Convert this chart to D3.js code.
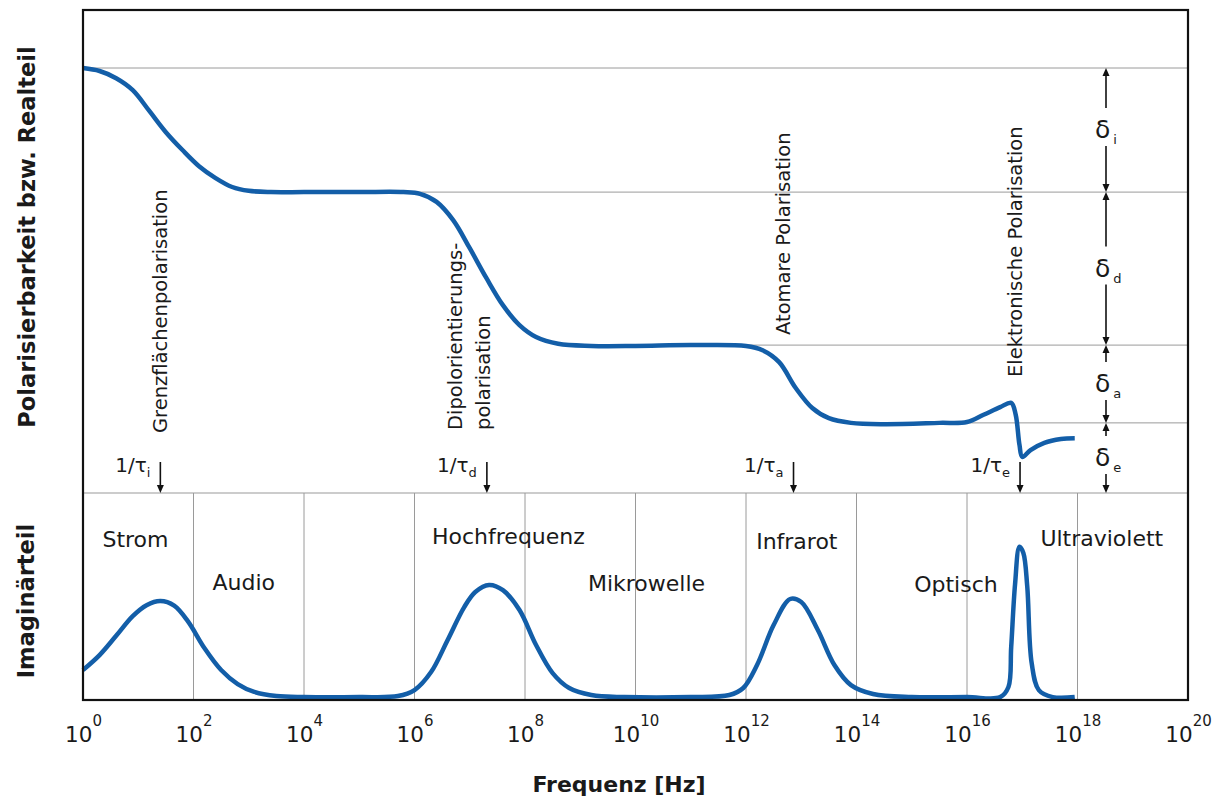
<!DOCTYPE html>
<html><head><meta charset="utf-8">
<script src="https://cdn.jsdelivr.net/npm/d3@7"></script>
<style>
html,body{margin:0;padding:0;background:#fff;}
svg{display:block;}
text{font-family:"DejaVu Sans",sans-serif;fill:#1a1a1a;}
</style></head>
<body>
<svg id="chart" width="1228" height="800"></svg>
<script>
// ---------- DATA ----------
// frequency exponents (log10 f / Hz) and real-part level (relative units)
const realExp   = [0,0.3,0.6,0.9,1.2,1.5,1.8,2.1,2.4,2.7,3.0,3.4,4.0,5.0,5.8,6.1,6.4,6.7,7.0,7.3,7.6,7.9,8.2,8.6,9.2,10,11,12.0,12.3,12.6,12.9,13.2,13.5,13.9,14.5,15.5,16.0,16.3,16.6,16.8,16.88,16.95,17.0,17.15,17.4,17.7,17.95];
const realLevel = [100,99.3,97.6,94.8,89.9,84.9,80.7,76.9,74.1,72.0,71.1,70.8,70.8,70.8,70.8,70.4,68.5,64.2,57.6,50.6,44.2,39.5,36.7,35.1,34.6,34.6,34.8,34.6,33.6,30.8,24.7,20.0,17.6,16.5,16.2,16.5,16.7,18.4,20.2,21.2,18.5,11.3,8.5,10.1,11.8,12.7,12.9];
// imaginary part
const imagExp   = [0,0.3,0.6,0.9,1.15,1.4,1.65,1.9,2.2,2.5,2.8,3.1,3.5,4.0,5.0,5.7,6.0,6.3,6.6,6.9,7.1,7.35,7.6,7.9,8.2,8.5,8.8,9.2,9.8,11.0,11.7,11.95,12.2,12.5,12.8,13.0,13.3,13.6,13.9,14.3,15.0,16.0,16.6,16.75,16.8,16.87,16.95,17.02,17.09,17.17,17.3,17.55,17.95];
const imagLevel = [14.5,21.7,31.0,40.5,45.8,47.8,45.6,38.0,25.0,14.5,7.7,3.9,1.9,1.4,1.4,1.9,4.8,13.5,29.0,44.9,52.2,55.6,53.1,43.5,26.6,13.0,5.8,2.4,1.4,1.4,2.4,5.8,16.9,36.2,48.8,47.3,33.8,16.9,7.2,2.9,1.4,1.4,1.4,6.3,25.6,56.0,74.0,71.0,55.0,17.9,4.8,1.4,1.4];
// x-axis ticks (exponents of 10)
const tickExp = [0,2,4,6,8,10,12,14,16,18,20];
const bandGridExp = [2,4,6,8,10,12,14,16,18];
// frequency bands
const bandNames = ["Strom","Audio","Hochfrequenz","Mikrowelle","Infrarot","Optisch","Ultraviolett"];
const bandExp   = [0.95,2.91,7.70,10.2,12.92,15.8,18.44];
// plateau levels and the δ contributions
const plateauLevel = [100,70.8,34.8,16.5,0];
const plateauStart = [0,3.4,8.6,13.9];
const deltaSub = ["i","d","a","e"];
// relaxation frequencies 1/τ
const relaxSub = ["i","d","a","e"];
const relaxExp = [1.4,7.31,12.86,16.96];
// mechanism names
const mechLines = [["Grenzflächenpolarisation"],["Dipolorientierungs-","polarisation"],["Atomare Polarisation"],["Elektronische Polarisation"]];

// ---------- LAYOUT ----------
const L=83, R=1188, T=10, B=700, MID=493;
const svg = d3.select("#chart");
const x = d3.scaleLinear().domain([0,20]).range([L,R]);
const yRe = d3.scaleLinear().domain([0,100]).range([MID,68]);
const yIm = d3.scaleLinear().domain([0,100]).range([B,MID]);
const blue = "#135ea8", grid = "#9a9a9a";

// grid lines lower panel
svg.append("g").selectAll("line").data(bandGridExp).join("line")
  .attr("x1",d=>x(d)).attr("x2",d=>x(d)).attr("y1",MID).attr("y2",B)
  .attr("stroke",grid).attr("stroke-width",1);
// plateau lines
svg.append("g").selectAll("line").data(plateauStart).join("line")
  .attr("x1",(d)=>x(d)).attr("x2",R)
  .attr("y1",(d,i)=>yRe(plateauLevel[i])).attr("y2",(d,i)=>yRe(plateauLevel[i]))
  .attr("stroke",grid).attr("stroke-width",1);
// separator
svg.append("line").attr("x1",L).attr("x2",R).attr("y1",MID).attr("y2",MID)
  .attr("stroke",grid).attr("stroke-width",1.2);

// curves
const reLine = d3.line().x(d=>x(d[0])).y(d=>yRe(d[1])).curve(d3.curveCatmullRom.alpha(0.5));
const imLine = d3.line().x(d=>x(d[0])).y(d=>yIm(d[1])).curve(d3.curveCatmullRom.alpha(0.5));
svg.append("path").datum(d3.zip(realExp,realLevel)).attr("d",reLine)
  .attr("fill","none").attr("stroke",blue).attr("stroke-width",4.5).attr("stroke-linejoin","round");
svg.append("path").datum(d3.zip(imagExp,imagLevel)).attr("d",imLine)
  .attr("fill","none").attr("stroke",blue).attr("stroke-width",4.5).attr("stroke-linejoin","round");

// frame
svg.append("rect").attr("x",L).attr("y",T).attr("width",R-L).attr("height",B-T)
  .attr("fill","none").attr("stroke","#111").attr("stroke-width",2.2);

// x axis
const axis = svg.append("g").attr("transform",`translate(0,${B})`)
  .call(d3.axisBottom(x).tickValues(tickExp).tickSize(0).tickPadding(0).tickFormat(()=>""));
axis.select(".domain").remove();
axis.selectAll(".tick text").each(function(d){
  const t=d3.select(this).attr("y",42).attr("dy",null)
    .style("font-family","DejaVu Sans").style("font-size","21.5px").attr("fill","#1a1a1a");
  t.text(null);
  t.append("tspan").text("10");
  t.append("tspan").text(d).attr("dy",-16).style("font-size","15px");
});
svg.append("text").attr("x",619).attr("y",792).attr("text-anchor","middle")
  .style("font-weight","bold").style("font-size","22px").text("Frequenz [Hz]");

// y titles
svg.append("text").attr("transform","translate(35,237) rotate(-90)").attr("text-anchor","middle")
  .style("font-weight","bold").style("font-size","22.5px").text("Polarisierbarkeit bzw. Realteil");
svg.append("text").attr("transform","translate(34,601) rotate(-90)").attr("text-anchor","middle")
  .style("font-weight","bold").style("font-size","22.5px").text("Imaginärteil");

// band labels
const bandY=[547,590,544,591,549,592,546];
svg.append("g").selectAll("text").data(bandNames).join("text")
  .attr("x",(d,i)=>x(bandExp[i])).attr("y",(d,i)=>bandY[i]).attr("text-anchor","middle")
  .style("font-size","22px").text(d=>d);

// mechanism labels (rotated)
const mechPos=[[167,433],[462,430],[790,335],[1022,377]];
mechLines.forEach((lines,i)=>{
  lines.forEach((s,j)=>{
    svg.append("text").attr("transform",`translate(${mechPos[i][0]+j*28},${mechPos[i][1]}) rotate(-90)`)
      .style("font-size","19.5px").text(s);
  });
});

// arrows helper
function arrow(x0,y0,y1){
  const dir = y1>y0?1:-1;
  svg.append("line").attr("x1",x0).attr("x2",x0).attr("y1",y0).attr("y2",y1-dir*7)
    .attr("stroke","#111").attr("stroke-width",1.6);
  svg.append("path").attr("d",`M${x0-3.5},${y1-dir*8}L${x0+3.5},${y1-dir*8}L${x0},${y1}Z`).attr("fill","#111");
}

// 1/τ markers
relaxExp.forEach((e,i)=>{
  const xe=x(e);
  arrow(xe,462,MID);
  const t=svg.append("text").attr("x",xe-10).attr("y",472).attr("text-anchor","end").style("font-size","20px");
  t.append("tspan").text("1/τ");
  t.append("tspan").text(relaxSub[i]).attr("dy",5).style("font-size","13px");
});

// δ annotations
const dx=1106;
deltaSub.forEach((s,i)=>{
  const ya=yRe(plateauLevel[i]), yb=yRe(plateauLevel[i+1]), m=(ya+yb)/2;
  arrow(dx,m-22,ya);
  arrow(dx,m+16,yb);
  const t=svg.append("text").attr("x",dx-11).attr("y",m+8).style("font-size","25px");
  t.append("tspan").text("δ");
  t.append("tspan").text(s).attr("dx",3).attr("dy",6).style("font-size","13px");
});
</script>
</body></html>
